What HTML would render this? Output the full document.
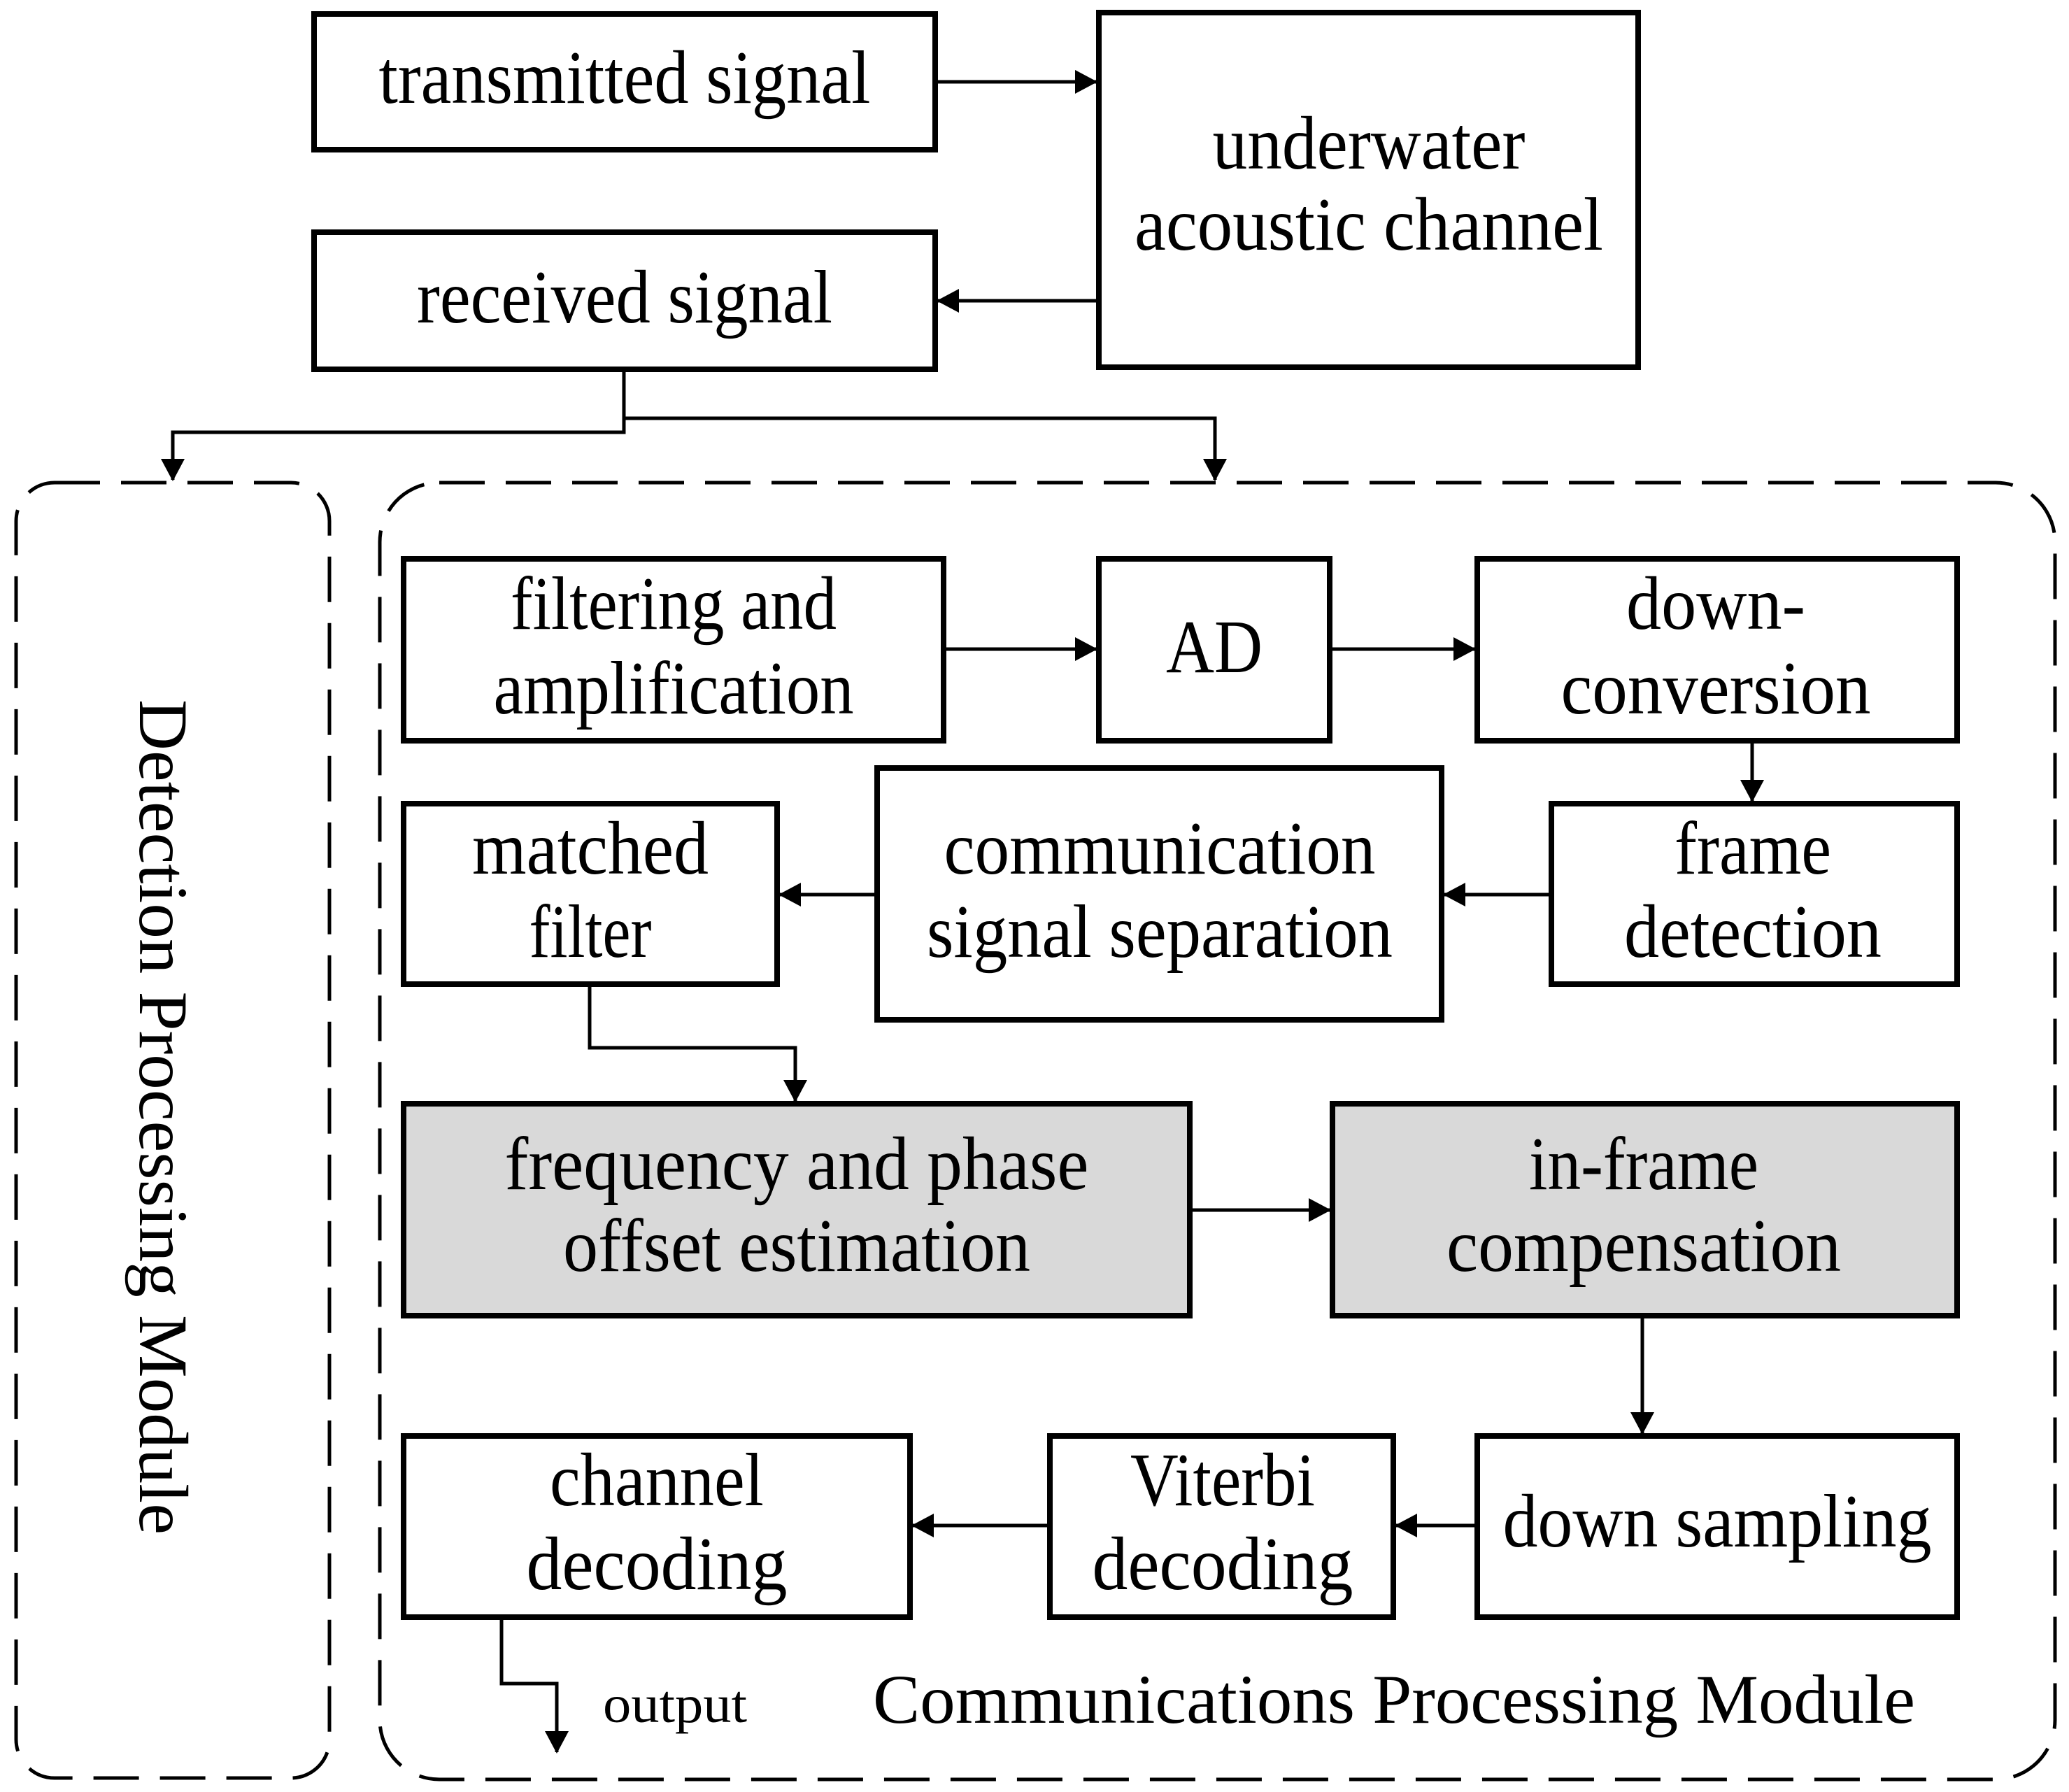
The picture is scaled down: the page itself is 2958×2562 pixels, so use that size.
<!DOCTYPE html>
<html><head><meta charset="utf-8"><style>html,body{margin:0;padding:0;background:#fff}svg{display:block}</style></head>
<body>
<svg width="2958" height="2562" viewBox="0 0 2958 2562" xmlns="http://www.w3.org/2000/svg">
<defs>
<marker id="a" markerWidth="32" markerHeight="34" refX="30" refY="17" orient="auto" markerUnits="userSpaceOnUse">
<path d="M0,0 L32,17 L0,34 Z" fill="#000"/></marker>
</defs>
<g fill="none" stroke="#000" stroke-width="5" stroke-dasharray="65,30">
<rect x="23" y="690" width="448" height="1852" rx="55"/>
<rect x="543" y="690" width="2395" height="1854" rx="85"/>
</g>
<g stroke="#000" stroke-width="8" fill="#fff">
<rect x="449" y="20" width="888" height="194"/>
<rect x="1571" y="18" width="771" height="507"/>
<rect x="449" y="332" width="888" height="196"/>
<rect x="577" y="799" width="772" height="260"/>
<rect x="1571" y="799" width="330" height="260"/>
<rect x="2112" y="799" width="686" height="260"/>
<rect x="2218" y="1149" width="580" height="258"/>
<rect x="1254" y="1098" width="807" height="360"/>
<rect x="577" y="1149" width="534" height="258"/>
<rect x="577" y="1578" width="1124" height="303" fill="#d9d9d9"/>
<rect x="1905" y="1578" width="893" height="303" fill="#d9d9d9"/>
<rect x="2112" y="2053" width="686" height="259"/>
<rect x="1501" y="2053" width="491" height="259"/>
<rect x="577" y="2053" width="724" height="259"/>
</g>
<g stroke="#000" stroke-width="5" fill="none" marker-end="url(#a)">
<line x1="1337" y1="117" x2="1567" y2="117"/>
<line x1="1571" y1="430" x2="1341" y2="430"/>
<polyline points="892,528 892,618 247,618 247,686"/>
<polyline points="892,598 1737,598 1737,686"/>
<line x1="1349" y1="928" x2="1567" y2="928"/>
<line x1="1901" y1="928" x2="2108" y2="928"/>
<line x1="2505" y1="1059" x2="2505" y2="1145"/>
<line x1="2218" y1="1279" x2="2065" y2="1279"/>
<line x1="1254" y1="1279" x2="1115" y2="1279"/>
<polyline points="843,1407 843,1498 1137,1498 1137,1574"/>
<line x1="1701" y1="1730" x2="1901" y2="1730"/>
<line x1="2348" y1="1881" x2="2348" y2="2049"/>
<line x1="2112" y1="2181" x2="1996" y2="2181"/>
<line x1="1501" y1="2181" x2="1305" y2="2181"/>
<polyline points="717,2312 717,2407 796,2407 796,2505"/>
</g>
<g font-family="Liberation Serif, serif" font-size="108" text-anchor="middle" fill="#000" lengthAdjust="spacingAndGlyphs">
<text x="893" y="147" textLength="703" lengthAdjust="spacingAndGlyphs">transmitted signal</text>
<text x="1957" y="241" textLength="447" lengthAdjust="spacingAndGlyphs">underwater</text>
<text x="1957" y="357" textLength="670" lengthAdjust="spacingAndGlyphs">acoustic channel</text>
<text x="893" y="461" textLength="594" lengthAdjust="spacingAndGlyphs">received signal</text>
<text x="963" y="899" textLength="466" lengthAdjust="spacingAndGlyphs">filtering and</text>
<text x="963" y="1020" textLength="515" lengthAdjust="spacingAndGlyphs">amplification</text>
<text x="1736" y="961" textLength="138" lengthAdjust="spacingAndGlyphs">AD</text>
<text x="2453" y="899" textLength="256" lengthAdjust="spacingAndGlyphs">down-</text>
<text x="2453" y="1020" textLength="443" lengthAdjust="spacingAndGlyphs">conversion</text>
<text x="844" y="1249" textLength="338" lengthAdjust="spacingAndGlyphs">matched</text>
<text x="844" y="1368" textLength="175" lengthAdjust="spacingAndGlyphs">filter</text>
<text x="1658" y="1249" textLength="617" lengthAdjust="spacingAndGlyphs">communication</text>
<text x="1658" y="1368" textLength="666" lengthAdjust="spacingAndGlyphs">signal separation</text>
<text x="2506" y="1249" textLength="224" lengthAdjust="spacingAndGlyphs">frame</text>
<text x="2506" y="1368" textLength="368" lengthAdjust="spacingAndGlyphs">detection</text>
<text x="1139" y="1700" textLength="835" lengthAdjust="spacingAndGlyphs">frequency and phase</text>
<text x="1139" y="1817" textLength="668" lengthAdjust="spacingAndGlyphs">offset estimation</text>
<text x="2350" y="1700" textLength="328" lengthAdjust="spacingAndGlyphs">in-frame</text>
<text x="2350" y="1817" textLength="564" lengthAdjust="spacingAndGlyphs">compensation</text>
<text x="939" y="2152" textLength="306" lengthAdjust="spacingAndGlyphs">channel</text>
<text x="939" y="2272" textLength="373" lengthAdjust="spacingAndGlyphs">decoding</text>
<text x="1748" y="2152" textLength="264" lengthAdjust="spacingAndGlyphs">Viterbi</text>
<text x="1748" y="2272" textLength="373" lengthAdjust="spacingAndGlyphs">decoding</text>
<text x="2455" y="2211" textLength="613" lengthAdjust="spacingAndGlyphs">down sampling</text>
</g>
<g font-family="Liberation Serif, serif" fill="#000">
<text x="862" y="2462" font-size="76" textLength="206" lengthAdjust="spacingAndGlyphs">output</text>
<text x="1248" y="2463" font-size="100" textLength="1490" lengthAdjust="spacingAndGlyphs">Communications Processing Module</text>
<text transform="translate(200,1597) rotate(90)" x="0" y="0" font-size="100" text-anchor="middle" textLength="1194" lengthAdjust="spacingAndGlyphs">Detection Processing Module</text>
</g>
</svg>
</body></html>
